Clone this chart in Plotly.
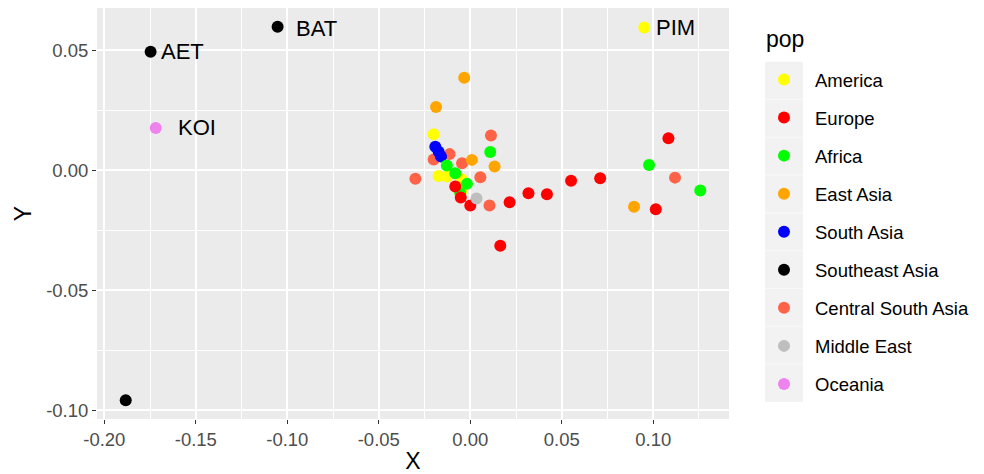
import plotly.graph_objects as go

# ---------------- data ----------------
groups = ["America", "Europe", "Africa", "East Asia", "South Asia",
          "Southeast Asia", "Central South Asia", "Middle East", "Oceania"]
colors = {"America": "#FFFF00", "Europe": "#FF0000", "Africa": "#00FF00",
          "East Asia": "#FFA500", "South Asia": "#0000FF",
          "Southeast Asia": "#000000", "Central South Asia": "#FF6347",
          "Middle East": "#BEBEBE", "Oceania": "#EE82EE"}

america_x = [0.0951, -0.0200, -0.0173, -0.0127, -0.0045, -0.0037, -0.0045]
america_y = [0.0596, 0.0151, -0.0023, -0.0025, -0.0038, -0.0063, -0.0083]

europe_x = [-0.0082, -0.0052, 0.0000, 0.0164, 0.0215, 0.0318, 0.0419, 0.0551, 0.0710, 0.1083, 0.1014]
europe_y = [-0.0067, -0.0113, -0.0146, -0.0314, -0.0133, -0.0095, -0.0099, -0.0043, -0.0033, 0.0134, -0.0162]

africa_x = [0.0109, -0.0128, -0.0082, -0.0018, -0.0055, 0.0977, 0.1257]
africa_y = [0.0077, 0.0021, -0.0012, -0.0056, -0.0094, 0.0023, -0.0084]

eastasia_x = [-0.0033, -0.0187, 0.0009, 0.0133, 0.0895]
eastasia_y = [0.0386, 0.0264, 0.0044, 0.0016, -0.0151]

southasia_x = [-0.0191, -0.0173, -0.0160]
southasia_y = [0.0099, 0.0078, 0.0058]

seasia_x = [-0.1747, -0.1053, -0.1883]
seasia_y = [0.0495, 0.0599, -0.0958]

csa_x = [0.0113, -0.0113, -0.0200, -0.0045, -0.0300, 0.0055, 0.0105, 0.1119]
csa_y = [0.0146, 0.0068, 0.0046, 0.0030, -0.0035, -0.0028, -0.0146, -0.0030]

mideast_x = [0.0034]
mideast_y = [-0.0117]

oceania_x = [-0.1719]
oceania_y = [0.0177]

data = {
    "America": (america_x, america_y),
    "Europe": (europe_x, europe_y),
    "Africa": (africa_x, africa_y),
    "East Asia": (eastasia_x, eastasia_y),
    "South Asia": (southasia_x, southasia_y),
    "Southeast Asia": (seasia_x, seasia_y),
    "Central South Asia": (csa_x, csa_y),
    "Middle East": (mideast_x, mideast_y),
    "Oceania": (oceania_x, oceania_y),
}

label_text = ["AET", "BAT", "KOI", "PIM"]
label_x = [seasia_x[0], seasia_x[1], oceania_x[0], america_x[0]]
label_y = [seasia_y[0], seasia_y[1], oceania_y[0], america_y[0]]
label_dx = [8.5, 16, 20.5, 10]      # pixel offsets of text from point
label_dy = [0, -2, 0, 0]

x_ticks = [-0.20, -0.15, -0.10, -0.05, 0.00, 0.05, 0.10]
x_tick_text = ["-0.20", "-0.15", "-0.10", "-0.05", "0.00", "0.05", "0.10"]
y_ticks = [-0.10, -0.05, 0.00, 0.05]
y_tick_text = ["-0.10", "-0.05", "0.00", "0.05"]

legend_title = "pop"

# ---------------- figure ----------------
W, H = 984, 474
ML, MR, MT, MB = 97, 255, 8, 55
PW, PH = W - ML - MR, H - MT - MB

def px2paper_x(p):
    return (p - ML) / PW

def px2paper_y(p):
    return (H - MB - p) / PH

FONT = "Liberation Sans, Arial, sans-serif"

fig = go.Figure()

draw_order = ["Central South Asia", "East Asia", "South Asia", "America",
              "Africa", "Europe", "Middle East", "Southeast Asia", "Oceania"]
for g in draw_order:
    xs, ys = data[g]
    fig.add_trace(go.Scatter(
        x=xs, y=ys, mode="markers", name=g, legendgroup=g,
        legendrank=groups.index(g) + 1,
        marker=dict(color=colors[g], size=12, line=dict(width=0)),
    ))

for t, x, y, dx, dy in zip(label_text, label_x, label_y, label_dx, label_dy):
    fig.add_annotation(x=x, y=y, text=t, showarrow=False, xanchor="left",
                       yanchor="middle", xshift=dx, yshift=dy,
                       font=dict(family=FONT, size=22, color="black"))

# legend title
fig.add_annotation(xref="paper", yref="paper", x=px2paper_x(764),
                   y=px2paper_y(39.5), text=legend_title, showarrow=False,
                   xanchor="left", yanchor="middle",
                   font=dict(family=FONT, size=23, color="black"))

# legend key background
key_top, key_h = 61.7, 37.8
fig.add_shape(type="rect", xref="paper", yref="paper",
              x0=px2paper_x(765), x1=px2paper_x(803),
              y0=px2paper_y(key_top + key_h * len(groups)), y1=px2paper_y(key_top),
              fillcolor="#F2F2F2", line=dict(width=0), layer="below")
for k in range(1, len(groups)):
    yy = px2paper_y(key_top + key_h * k)
    fig.add_shape(type="line", xref="paper", yref="paper",
                  x0=px2paper_x(765), x1=px2paper_x(803), y0=yy, y1=yy,
                  line=dict(color="#F9F9F9", width=1), layer="below")

axis_common = dict(
    showgrid=True, gridcolor="white", gridwidth=1.6,
    zeroline=False, showline=False, automargin=False,
    ticks="outside", ticklen=4, tickwidth=1.4, tickcolor="#333333",
    tickfont=dict(family=FONT, size=18.5, color="#4D4D4D"),
)

fig.update_xaxes(
    range=[-0.204, 0.1414], tickvals=x_ticks, ticktext=x_tick_text,
    minor=dict(dtick=0.025, tick0=-0.2, showgrid=True, gridcolor="white",
               gridwidth=0.7, ticks=""),
    title=dict(text="X", font=dict(family=FONT, size=23, color="black"), standoff=6),
    **axis_common,
)
fig.update_yaxes(
    range=[-0.1036, 0.0677], tickvals=y_ticks, ticktext=y_tick_text,
    minor=dict(dtick=0.025, tick0=-0.1, showgrid=True, gridcolor="white",
               gridwidth=0.7, ticks=""),
    title=dict(text="Y", font=dict(family=FONT, size=23, color="black"), standoff=8),
    **axis_common,
)

fig.update_layout(
    width=W, height=H,
    margin=dict(l=ML, r=MR, t=MT, b=MB, pad=0, autoexpand=False),
    plot_bgcolor="#EBEBEB", paper_bgcolor="white",
    font=dict(family=FONT),
    showlegend=True,
    legend=dict(
        font=dict(family=FONT, size=18.5, color="black"),
        x=px2paper_x(753), xanchor="left",
        y=px2paper_y(61), yanchor="top",
        bgcolor="rgba(0,0,0,0)", itemwidth=52, tracegroupgap=11,
        itemsizing="constant",
    ),
)

fig.write_html("out.html")
